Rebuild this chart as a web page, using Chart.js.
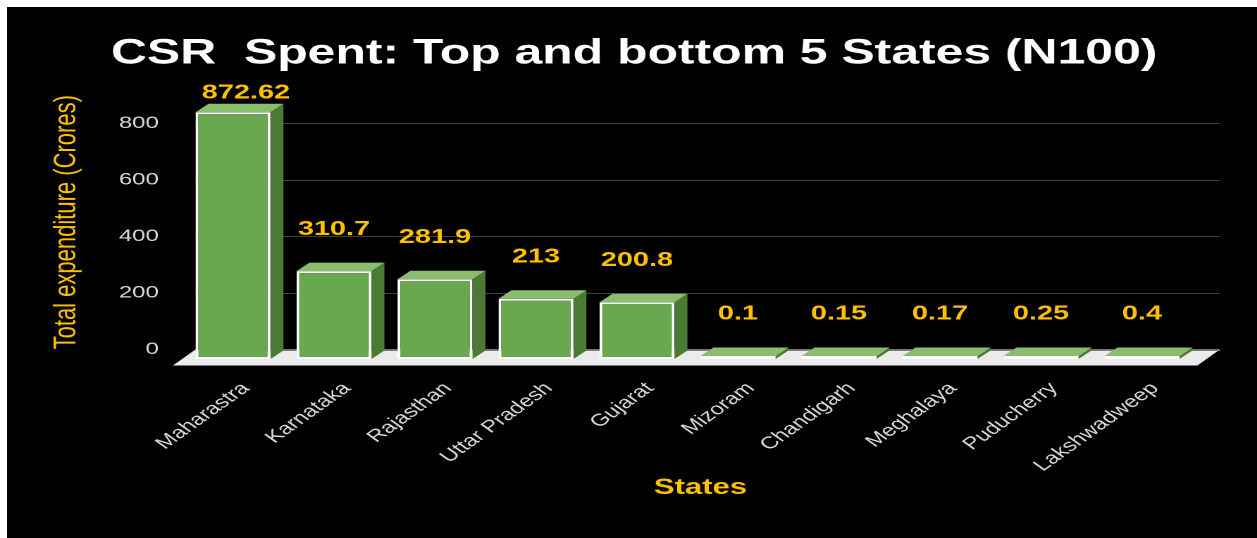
<!DOCTYPE html>
<html><head><meta charset="utf-8">
<script src="https://cdn.jsdelivr.net/npm/chart.js@4.4.1/dist/chart.umd.min.js"></script>
<style>
html,body{margin:0;padding:0;background:#fff;width:1257px;height:538px;overflow:hidden;}
#panel{position:absolute;left:7px;top:7px;right:0;bottom:0;background:#000;}
#wrap{position:absolute;left:0;top:0;width:892px;height:538px;transform:scaleX(1.4092);transform-origin:0 0;}
</style></head><body>
<div id="panel"></div>
<div id="wrap"><canvas id="c"></canvas></div>
<script>
// ---- data ----
const chartTitle = 'CSR  Spent: Top and bottom 5 States (N100)';
const categories = ['Maharastra','Karnataka','Rajasthan','Uttar Pradesh','Gujarat','Mizoram','Chandigarh','Meghalaya','Puducherry','Lakshwadweep'];
const spent = [872.62, 310.7, 281.9, 213, 200.8, 0.1, 0.15, 0.17, 0.25, 0.4];
const valueLabels = ['872.62','310.7','281.9','213','200.8','0.1','0.15','0.17','0.25','0.4'];
const yAxisTitle = 'Total expenditure (Crores)';
const xAxisTitle = 'States';
const yMin = 0, yMax = 900, yStep = 200;

// ---- styling / 3D geometry ----
const FONT = "'Liberation Sans', Arial, sans-serif";
const TX = -9.2, TY = 9.5;     // front face offset from back wall
const DX = 9.2, DY = -8.5;     // bar depth
const FX = -16, FY = 16;       // floor depth
const WALL_EXT = 10.3;
const GOLD = '#FFC000';

Chart.defaults.font.family = FONT;

const threeD = {
  id: 'threeD',
  beforeDatasetsDraw(chart) {
    const {ctx, chartArea: a, scales: {y}} = chart;
    const y0 = y.getPixelForValue(0);
    ctx.save();
    // floor
    ctx.fillStyle = '#ebebeb';
    ctx.beginPath();
    ctx.moveTo(a.left, y0);
    ctx.lineTo(a.right + WALL_EXT, y0);
    ctx.lineTo(a.right + WALL_EXT + FX, y0 + FY);
    ctx.lineTo(a.left + FX, y0 + FY);
    ctx.closePath();
    ctx.fill();
    // gridlines on back wall
    ctx.lineWidth = 1;
    y.ticks.forEach(t => {
      const py = Math.round(y.getPixelForValue(t.value)) + 0.5;
      ctx.strokeStyle = t.value === 0 ? '#7f7f7f' : '#404040';
      ctx.beginPath();
      ctx.moveTo(a.left, py);
      ctx.lineTo(a.right + WALL_EXT, py);
      ctx.stroke();
    });
    // side and top faces
    const meta = chart.getDatasetMeta(0);
    meta.data.forEach(bar => {
      const {x, y: top, base, width} = bar.getProps(['x','y','base','width'], true);
      const l = x - width / 2 + TX, r = x + width / 2 + TX;
      const t = Math.min(top, base) + TY, b = Math.max(top, base) + TY;
      ctx.fillStyle = '#4b7a35';
      ctx.beginPath();
      ctx.moveTo(r, t); ctx.lineTo(r + DX, t + DY); ctx.lineTo(r + DX, b + DY); ctx.lineTo(r, b);
      ctx.closePath(); ctx.fill();
      ctx.fillStyle = '#8bbd6e';
      ctx.beginPath();
      ctx.moveTo(l, t); ctx.lineTo(l + DX, t + DY); ctx.lineTo(r + DX, t + DY); ctx.lineTo(r, t);
      ctx.closePath(); ctx.fill();
    });
    ctx.restore();
    ctx.save();
    ctx.translate(TX, TY);
  },
  afterDatasetsDraw(chart) {
    const {ctx, chartArea: a} = chart;
    ctx.restore();
    ctx.save();
    ctx.fillStyle = GOLD;
    ctx.font = 'bold 20.5px ' + FONT;
    ctx.textAlign = 'center';
    ctx.textBaseline = 'middle';
    const meta = chart.getDatasetMeta(0);
    meta.data.forEach((bar, i) => {
      const {x, y: top} = bar.getProps(['x','y'], true);
      const raw = top + TY - 42;
      const ly = Math.max(raw, a.top - 2);
      const lx = raw < a.top - 2 ? x : x + TX;
      ctx.fillText(valueLabels[i], lx, ly);
    });
    ctx.restore();
  }
};

new Chart(document.getElementById('c'), {
  type: 'bar',
  data: {
    labels: categories,
    datasets: [{
      data: spent,
      backgroundColor: '#6aa84f',
      borderColor: '#ffffff',
      borderWidth: 2,
      borderSkipped: false,
      barPercentage: 0.742,
      categoryPercentage: 1,
      minBarLength: 3,
      clip: false
    }]
  },
  options: {
    responsive: true,
    maintainAspectRatio: false,
    animation: false,
    devicePixelRatio: 2,
    layout: { padding: { left: 44.6, top: 0, right: 36.6, bottom: 0 } },
    plugins: {
      legend: { display: false },
      tooltip: { enabled: false },
      title: {
        display: true, text: chartTitle, color: '#ffffff',
        font: { size: 35.4, weight: 'bold' },
        padding: { top: 32.5, bottom: 20 }
      }
    },
    scales: {
      x: {
        grid: { display: false, drawTicks: false },
        border: { display: false },
        ticks: { color: '#d9d9d9', font: { size: 17 }, minRotation: 45, maxRotation: 45, padding: 29, autoSkip: false },
        title: { display: true, text: xAxisTitle, color: GOLD, font: { size: 22, weight: 'bold' }, padding: { top: 0, bottom: 37 } },
        afterFit: s => { s.height = 188.5; }
      },
      y: {
        min: yMin, max: yMax,
        grid: { display: false, drawTicks: false },
        border: { display: false },
        ticks: { stepSize: yStep, includeBounds: false, color: '#d9d9d9', font: { size: 17 }, padding: 26 },
        title: { display: true, text: yAxisTitle, color: GOLD, font: { size: 22 }, padding: { top: -10.3, bottom: 0 } },
        afterFit: s => { s.width = 94.1; }
      }
    }
  },
  plugins: [threeD]
});
</script>
</body></html>
